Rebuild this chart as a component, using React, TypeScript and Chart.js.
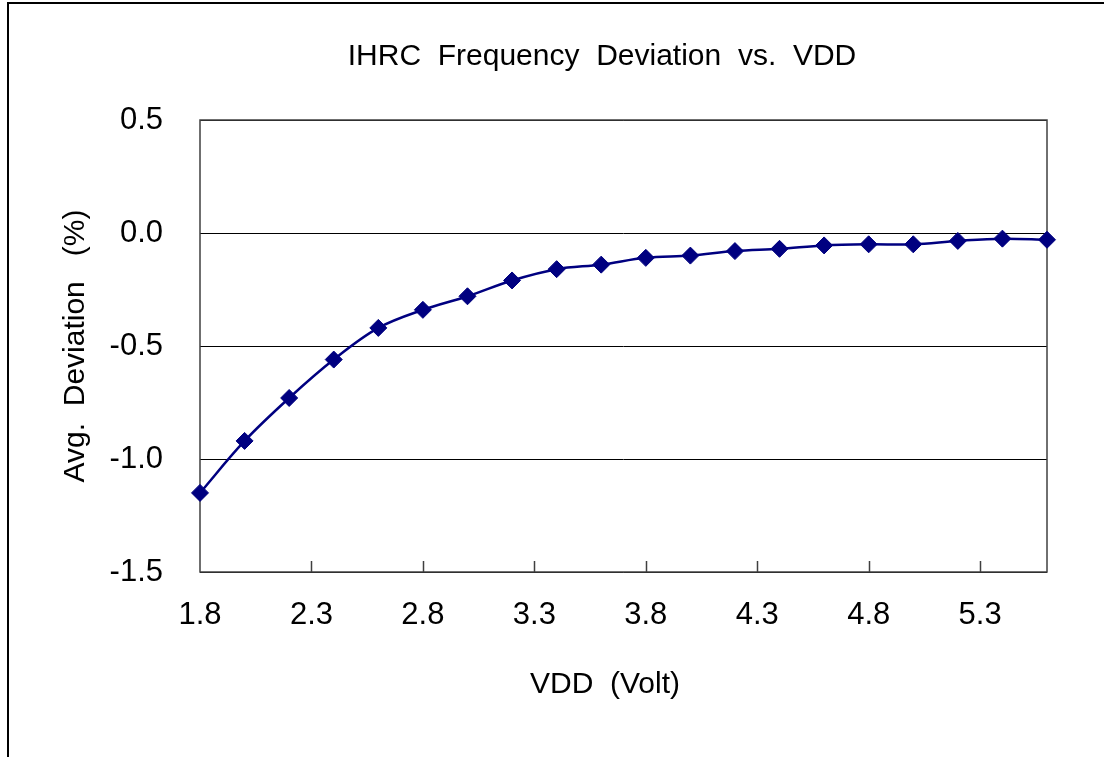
import React, { useEffect, useRef } from "react";
import { Chart, registerables } from "chart.js";

Chart.register(...registerables);

const VDD = [1.8, 2.0, 2.2, 2.4, 2.6, 2.8, 3.0, 3.2, 3.4, 3.6, 3.8, 4.0, 4.2, 4.4, 4.6, 4.8, 5.0, 5.2, 5.4, 5.6];
const DEVIATION = [-1.15, -0.92, -0.73, -0.56, -0.42, -0.34, -0.28, -0.21, -0.16, -0.14, -0.11, -0.10, -0.08, -0.07, -0.055, -0.05, -0.05, -0.035, -0.025, -0.03];
const X_TICKS = [1.8, 2.3, 2.8, 3.3, 3.8, 4.3, 4.8, 5.3];
const Y_TICKS = [-1.5, -1.0, -0.5, 0.0, 0.5];
const CHART_TITLE = "IHRC  Frequency  Deviation  vs.  VDD";
const X_TITLE = "VDD  (Volt)";
const Y_TITLE = "Avg.  Deviation   (%)";

const FONT = "'Liberation Sans', Arial, sans-serif";
const W = 1097;
const H = 755;

const decorPlugin = {
  id: "decor",
  beforeDraw(chart: any) {
    const ctx = chart.ctx;
    ctx.save();
    ctx.fillStyle = "#ffffff";
    ctx.fillRect(0, 0, chart.width, chart.height);
    ctx.strokeStyle = "#000000";
    ctx.lineWidth = 2;
    ctx.beginPath();
    ctx.moveTo(1, chart.height);
    ctx.lineTo(1, 1);
    ctx.lineTo(chart.width, 1);
    ctx.stroke();
    ctx.restore();
  },
  beforeDatasetsDraw(chart: any) {
    const { ctx, chartArea } = chart;
    const xs = chart.scales.x;
    ctx.save();
    ctx.strokeStyle = "#404040";
    ctx.lineWidth = 1.5;
    ctx.strokeRect(chartArea.left, chartArea.top, chartArea.right - chartArea.left, chartArea.bottom - chartArea.top);
    ctx.beginPath();
    xs.ticks.forEach((t: any) => {
      const px = Math.round(xs.getPixelForValue(t.value)) + 0.5;
      if (px > chartArea.left + 2 && px < chartArea.right - 2) {
        ctx.moveTo(px, chartArea.bottom);
        ctx.lineTo(px, chartArea.bottom - 11);
      }
    });
    ctx.stroke();
    ctx.restore();
  },
  afterDraw(chart: any) {
    const ctx = chart.ctx;
    ctx.save();
    ctx.fillStyle = "#000000";
    ctx.font = `30px ${FONT}`;
    ctx.textAlign = "center";
    ctx.textBaseline = "alphabetic";
    ctx.fillText(CHART_TITLE, 595, 63);
    ctx.fillText(X_TITLE, 598, 691);
    ctx.restore();
  },
};

export default function App() {
  const ref = useRef<HTMLCanvasElement | null>(null);

  useEffect(() => {
    if (!ref.current) return;
    Chart.defaults.font.family = FONT;
    const chart = new Chart(ref.current, {
      type: "line",
      data: {
        datasets: [
          {
            data: VDD.map((v, i) => ({ x: v, y: DEVIATION[i] })),
            borderColor: "#000080",
            backgroundColor: "#000080",
            borderWidth: 2.5,
            tension: 0.35,
            pointStyle: "rectRot",
            pointRadius: 8.5,
            pointBorderWidth: 1,
            pointBackgroundColor: "#000080",
            pointBorderColor: "#000080",
            clip: false as any,
          },
        ],
      },
      options: {
        responsive: false,
        animation: false,
        devicePixelRatio: window.devicePixelRatio || 1,
        layout: { padding: { top: 118, right: 57, bottom: 125, left: 0 } },
        plugins: {
          legend: { display: false },
          title: { display: false },
          tooltip: { enabled: false },
        },
        scales: {
          x: {
            type: "linear",
            min: 1.8,
            max: 5.6,
            afterBuildTicks: (s: any) => {
              s.ticks = X_TICKS.map((v) => ({ value: v }));
            },
            afterFit: (s: any) => {
              s.height = 60;
            },
            grid: { display: false },
            border: { display: false },
            ticks: {
              autoSkip: false,
              maxRotation: 0,
              padding: 17,
              color: "#000000",
              font: { size: 31 },
              callback: (v: any) => Number(v).toFixed(1),
            },
          },
          y: {
            type: "linear",
            min: -1.5,
            max: 0.5,
            afterBuildTicks: (s: any) => {
              s.ticks = Y_TICKS.map((v) => ({ value: v }));
            },
            afterFit: (s: any) => {
              s.width = 193;
            },
            grid: { color: "#000000", lineWidth: 1, drawTicks: false },
            border: { display: false },
            ticks: {
              padding: 37,
              color: "#000000",
              font: { size: 31 },
              callback: (v: any) => Number(v).toFixed(1),
            },
            title: {
              display: true,
              text: Y_TITLE,
              color: "#000000",
              font: { size: 30 },
              padding: { top: 51, bottom: 0 },
            },
          },
        },
      },
      plugins: [decorPlugin],
    });
    return () => chart.destroy();
  }, []);

  return (
    <div style={{ position: "absolute", left: 7, top: 2, width: W, height: H, overflow: "hidden" }}>
      <canvas ref={ref} width={W} height={H} style={{ width: W, height: H, display: "block" }} />
    </div>
  );
}
